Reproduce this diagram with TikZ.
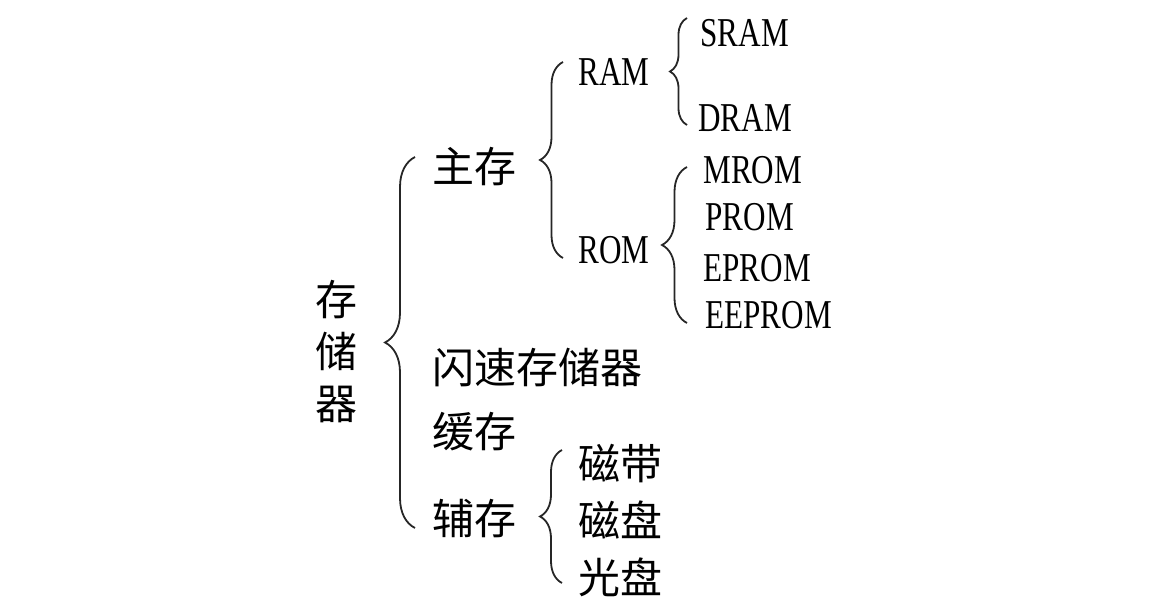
\documentclass[tikz,border=0pt]{standalone}
\usepackage{fontspec}
\newfontfamily\cjk{Noto Sans CJK SC}
\newfontfamily\latin[FakeStretch=0.76]{Liberation Serif}
\usetikzlibrary{positioning}
\usetikzlibrary{decorations.pathreplacing}
\tikzset{	x=0.5pt, y=-0.5pt,
	cn/.style={
		font=\cjk\fontsize{21}{26}\selectfont,
		inner sep=0pt,
		anchor=west},
	en/.style={
		font=\latin\fontsize{20.5}{24}\selectfont,
		inner sep=0pt,
		anchor=west},
	brace/.style={
		decorate,
		decoration={brace, amplitude=#1},
		line width=0.9pt,
		black!85}
}
\begin{document}
\begin{tikzpicture}
				\useasboundingbox (0,0) rectangle (1157,614);
				\node[cn, anchor=center, align=center] (mem) at (336,352) {存\\储\\器};
				\node[cn] (main) at (432,167) {主存};
				\node[cn] (flash) at (432,367) {闪速存储器};
				\node[cn] (cache) at (432,432) {缓存};
				\node[cn] (aux) at (432,519) {辅存};
				\node[en] (ram) at (578,72) {RAM};
				\node[en] (rom) at (578,250) {ROM};
				\node[en] (sram) at (700,33) {SRAM};
				\node[en] (dram) at (698,118) {DRAM};
				\node[en] (mrom) at (703,170) {MROM};
				\node[en] (prom) at (705,217) {PROM};
				\node[en] (eprom) at (703,268) {EPROM};
				\node[en] (eeprom) at (705,315) {EEPROM};
				\node[cn] (tape) at (578,464) {磁带};
				\node[cn] (disk) at (578,520) {磁盘};
				\node[cn] (cd) at (578,577) {光盘};
				% brace ends
				\coordinate (memB) at (415,528);
				\coordinate (memT) at (415,157);
				\coordinate (mainB) at (563,258);
				\coordinate (mainT) at (563,62);
				\coordinate (ramB) at (687,125);
				\coordinate (ramT) at (687,18);
				\coordinate (romB) at (687,323);
				\coordinate (romT) at (687,167);
				\coordinate (auxB) at (562,583);
				\coordinate (auxT) at (562,450);
				\draw[brace=15pt] (memB) -- (memT);
				\draw[brace=11.5pt] (mainB) -- (mainT);
				\draw[brace=8.5pt] (ramB) -- (ramT);
				\draw[brace=12.5pt] (romB) -- (romT);
				\draw[brace=11pt] (auxB) -- (auxT);
			\end{tikzpicture}
\end{document}
